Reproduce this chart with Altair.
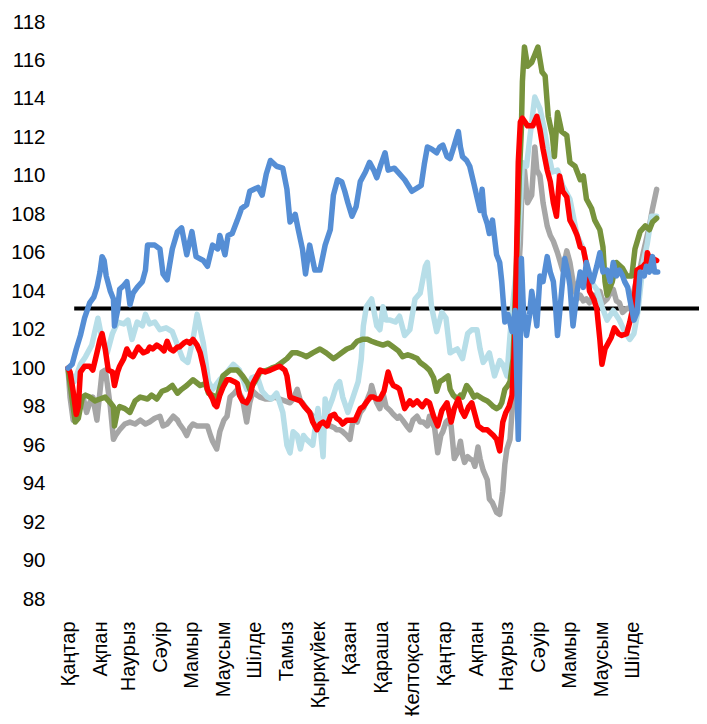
import json
import altair as alt
import pandas as pd

# ---- axis content ----
months = ["Қаңтар", "Ақпан", "Наурыз", "Сәуір", "Мамыр", "Маусым", "Шілде", "Тамыз",
          "Қыркүйек", "Қазан", "Қараша", "Желтоқсан", "Қаңтар", "Ақпан", "Наурыз",
          "Сәуір", "Мамыр", "Маусым", "Шілде"]
month_start_day = [0, 31, 59, 90, 120, 151, 181, 212, 243, 273, 304, 334,
                   365, 396, 425, 456, 486, 517, 547]
y_ticks = list(range(88, 119, 2))
x_end_day = 611
threshold = 103.1
threshold_start_day = 6

# ---- series (day since start, index value) ----
blue_day = [0, 4, 8, 12, 16, 21, 25, 28, 31, 33, 35, 37, 41, 44, 45, 48, 50, 54, 57, 60, 63, 67, 72, 75, 77,
            84, 89, 92, 96, 101, 106, 110, 115, 120, 124, 131, 135, 140, 145, 147, 152, 155, 159, 164, 168,
            173, 176, 184, 188, 192, 196, 202, 208, 212, 215, 220, 223, 227, 230, 234, 239, 244, 249, 254,
            257, 261, 265, 268, 271, 275, 279, 283, 288, 292, 296, 299, 303, 307, 310, 316, 321, 326, 333,
            339, 342, 345, 348, 352, 357, 360, 363, 367, 370, 373, 378, 380, 382, 386, 389, 393, 396, 399,
            401, 403, 406, 408, 411, 415, 418, 420, 423, 426, 430, 433, 436, 438, 439, 441, 444, 447, 449,
            452, 454, 457, 460, 464, 467, 470, 472, 474, 478, 481, 484, 486, 489, 493, 496, 499, 502, 505,
            508, 512, 515, 518, 522, 525, 528, 531, 534, 537, 539, 542, 544, 548, 551, 554, 558, 560, 563,
            566, 568, 571]
blue_val = [100.0, 100.2, 101.0, 101.7, 102.6, 103.4, 103.7, 104.2, 105.0, 105.8, 105.6, 104.8, 104.0, 103.6,
            102.2, 103.0, 104.1, 104.3, 104.5, 103.3, 103.9, 104.2, 104.5, 105.1, 106.4, 106.4, 106.2, 104.9,
            104.6, 106.2, 107.1, 107.3, 105.9, 107.1, 105.8, 105.6, 105.3, 106.4, 106.2, 106.9, 105.9, 106.9,
            107.0, 107.7, 108.3, 108.5, 109.2, 109.4, 109.0, 110.1, 110.8, 110.5, 110.4, 109.3, 107.6, 108.0,
            107.2, 106.2, 104.9, 106.4, 105.1, 105.1, 106.4, 107.2, 109.0, 109.8, 109.7, 109.2, 108.6, 107.9,
            108.4, 109.7, 110.2, 110.7, 110.3, 109.9, 110.6, 111.2, 110.3, 110.4, 110.1, 109.8, 109.2, 109.4,
            109.5, 110.6, 111.5, 111.4, 111.2, 111.5, 111.6, 111.0, 110.9, 111.4, 112.3, 111.5, 111.0, 110.8,
            110.5, 109.6, 108.9, 108.2, 109.3, 108.0, 107.5, 107.0, 107.7, 105.9, 105.5, 104.5, 102.4, 102.8,
            101.9, 103.0, 96.3, 101.5, 105.7, 103.0, 101.7, 102.8, 104.0, 103.0, 102.2, 104.8, 104.5, 105.8,
            105.0, 104.5, 103.3, 101.7, 104.0, 105.7, 105.0, 104.3, 102.2, 104.0, 105.0, 104.2, 105.5, 104.9,
            104.5, 105.3, 106.0, 105.0, 105.1, 104.5, 105.5, 104.8, 105.1, 104.8, 104.5, 104.2, 103.6, 102.5,
            102.9, 105.0, 104.8, 105.3, 105.0, 105.8, 105.0, 105.0]

lightblue_day = [0, 6, 12, 17, 23, 29, 33, 38, 43, 48, 54, 58, 62, 67, 72, 75, 79, 84, 89, 95, 101, 106, 111,
                 116, 121, 125, 131, 136, 140, 147, 154, 160, 166, 173, 178, 183, 188, 193, 197, 202, 208, 212,
                 215, 218, 222, 225, 228, 231, 237, 242, 245, 247, 249, 251, 256, 260, 263, 266, 271, 276, 281,
                 284, 286, 289, 294, 299, 302, 305, 308, 312, 317, 321, 326, 331, 336, 341, 346, 348, 352, 357,
                 362, 366, 370, 373, 377, 382, 387, 391, 396, 399, 402, 406, 408, 413, 418, 421, 425, 428, 431,
                 434, 438, 440, 444, 447, 452, 457, 461, 464, 469, 474, 479, 486, 493, 499, 505, 512, 517, 522,
                 528, 534, 539, 544, 548, 552, 557, 561, 565, 570]
lightblue_val = [100.0, 99.3, 100.2, 100.6, 101.2, 102.6, 101.5, 100.8, 101.8, 102.4, 102.3, 102.5, 101.5,
                 102.4, 102.2, 102.8, 102.3, 102.4, 102.0, 102.1, 101.9, 101.2, 100.5, 100.3, 101.5, 102.8,
                 101.3, 99.3, 98.9, 99.4, 99.8, 100.2, 99.9, 98.9, 99.5, 99.6, 98.8, 98.5, 98.4, 98.7, 97.7,
                 96.0, 95.6, 96.7, 96.5, 95.8, 96.5, 96.3, 96.0, 97.9, 96.5, 95.4, 98.4, 97.7, 98.4, 99.1,
                 99.3, 98.5, 97.7, 98.5, 99.3, 100.5, 102.2, 103.2, 103.6, 102.2, 102.0, 103.2, 102.5, 102.5,
                 102.4, 102.7, 101.7, 102.0, 103.6, 103.9, 105.3, 105.5, 103.2, 101.9, 102.9, 102.6, 100.8,
                 100.9, 101.0, 100.5, 101.8, 102.0, 102.0, 101.0, 100.3, 100.6, 100.8, 99.6, 100.4, 100.2,
                 99.6, 101.7, 103.5, 105.1, 108.5, 110.7, 110.5, 111.9, 114.1, 113.5, 112.5, 111.5, 110.2,
                 110.3, 109.5, 108.8, 106.9, 106.2, 104.6, 104.1, 103.2, 102.5, 103.0, 102.5, 101.9, 101.5,
                 101.8, 103.0, 105.5, 106.5, 107.9, 107.9]

green_day = [0, 3, 7, 10, 14, 17, 21, 26, 31, 36, 41, 44, 45, 48, 50, 55, 60, 65, 70, 77, 81, 86, 91, 96, 101,
             106, 110, 115, 121, 128, 133, 136, 140, 144, 147, 150, 157, 164, 169, 174, 176, 181, 186, 193,
             197, 202, 207, 212, 217, 222, 227, 231, 237, 244, 250, 257, 260, 265, 270, 275, 280, 285, 290,
             294, 299, 305, 310, 315, 320, 324, 329, 334, 338, 341, 346, 350, 354, 357, 360, 363, 368, 370,
             373, 377, 380, 382, 386, 389, 393, 396, 402, 406, 408, 412, 415, 418, 420, 423, 426, 428, 431,
             434, 437, 439, 440, 442, 445, 449, 452, 455, 459, 462, 465, 469, 471, 474, 478, 483, 486, 491,
             496, 499, 502, 507, 510, 515, 518, 520, 522, 527, 531, 537, 541, 546, 549, 554, 559, 563, 566,
             570]
green_val = [100.0, 98.8, 97.2, 97.4, 98.5, 98.6, 98.5, 98.3, 98.4, 98.5, 98.2, 98.0, 97.0, 97.8, 98.0, 97.9,
             97.7, 98.3, 98.5, 98.4, 98.6, 98.4, 98.8, 98.9, 99.1, 98.7, 98.9, 99.1, 99.4, 99.1, 99.2, 98.7,
             98.6, 98.4, 99.0, 99.6, 99.9, 99.9, 99.6, 99.2, 98.9, 99.3, 99.8, 99.9, 100.0, 100.1, 100.3,
             100.5, 100.8, 100.8, 100.7, 100.6, 100.8, 101.0, 100.8, 100.5, 100.6, 100.8, 101.0, 101.1, 101.4,
             101.5, 101.5, 101.4, 101.3, 101.2, 101.3, 101.1, 100.9, 100.6, 100.7, 100.6, 100.5, 100.3, 100.1,
             99.9, 99.5, 98.8, 99.3, 99.4, 99.6, 98.9, 98.6, 98.4, 98.6, 98.5, 99.1, 98.9, 98.5, 98.6, 98.4,
             98.3, 98.2, 98.0, 97.9, 98.0, 98.2, 98.9, 99.1, 99.3, 100.5, 105.0, 110.0, 112.4, 114.9, 116.7,
             115.7, 115.9, 116.3, 116.7, 115.4, 115.2, 113.1, 112.1, 111.0, 113.3, 112.3, 112.1, 110.7, 110.5,
             109.8, 110.0, 108.8, 108.3, 107.7, 107.2, 106.3, 104.5, 103.8, 104.5, 105.5, 105.2, 104.8, 104.8,
             106.2, 107.1, 107.4, 107.2, 107.6, 107.8]

red_day = [0, 2, 5, 8, 10, 12, 16, 21, 24, 28, 31, 33, 36, 39, 43, 45, 48, 50, 54, 57, 60, 63, 68, 73, 77, 79,
           82, 86, 89, 93, 96, 99, 102, 106, 108, 112, 115, 118, 121, 125, 128, 131, 135, 138, 140, 142, 144,
           147, 150, 154, 157, 161, 164, 166, 169, 173, 176, 179, 183, 186, 191, 196, 200, 205, 210, 212, 215,
           220, 225, 229, 234, 237, 241, 244, 247, 251, 254, 258, 260, 263, 266, 270, 273, 278, 283, 286, 290,
           293, 296, 299, 302, 306, 310, 313, 315, 319, 321, 326, 331, 334, 338, 343, 347, 350, 354, 358, 362,
           367, 371, 374, 378, 381, 384, 388, 391, 394, 397, 402, 406, 408, 412, 415, 418, 421, 424, 427, 430,
           433, 436, 438, 440, 445, 450, 454, 457, 460, 464, 467, 470, 473, 476, 479, 483, 486, 489, 493, 496,
           499, 502, 505, 509, 512, 515, 517, 520, 523, 526, 529, 533, 536, 541, 544, 546, 549, 551, 554, 557,
           560, 561, 563, 566, 570]
red_val = [100.0, 99.8, 98.8, 97.6, 98.0, 99.8, 100.1, 100.1, 99.9, 100.8, 101.5, 101.8, 101.0, 99.9, 99.8,
           99.1, 99.8, 100.1, 100.5, 101.0, 100.7, 100.6, 101.1, 100.8, 100.9, 101.1, 101.0, 101.2, 101.1,
           100.9, 101.4, 101.0, 100.9, 101.1, 101.1, 101.3, 101.4, 101.3, 101.5, 101.2, 100.8, 100.1, 98.9,
           98.6, 98.4, 98.1, 98.0, 98.6, 99.0, 99.4, 99.4, 99.3, 99.2, 98.6, 98.3, 98.2, 98.5, 99.2, 99.6,
           99.9, 99.8, 99.9, 100.0, 100.1, 99.9, 99.6, 98.5, 98.4, 98.3, 98.0, 97.7, 97.2, 96.8, 97.1, 97.2,
           97.0, 97.5, 97.6, 97.4, 97.3, 97.1, 97.3, 97.3, 97.3, 97.9, 98.0, 98.3, 98.5, 98.5, 98.4, 98.4,
           98.8, 99.8, 99.3, 99.1, 99.0, 98.9, 97.9, 98.3, 98.1, 98.3, 98.0, 98.3, 98.2, 97.5, 97.0, 97.8,
           98.2, 97.2, 97.9, 98.4, 97.8, 97.5, 98.0, 98.2, 97.6, 97.0, 96.8, 96.8, 96.7, 96.5, 96.3, 95.7,
           97.2, 97.7, 98.0, 98.6, 102.0, 110.7, 112.8, 113.0, 112.6, 112.6, 113.1, 112.4, 111.4, 110.3,
           109.7, 108.6, 107.9, 110.0, 109.2, 108.9, 107.7, 107.4, 106.9, 106.3, 106.2, 105.4, 104.0, 103.6,
           103.1, 101.5, 100.2, 101.0, 101.3, 101.6, 102.1, 101.8, 101.7, 101.8, 102.4, 102.9, 104.0, 105.1,
           105.2, 105.3, 105.5, 106.0, 105.7, 105.7, 105.6]

gray_day = [0, 2, 5, 9, 12, 15, 18, 21, 24, 28, 31, 33, 36, 38, 41, 44, 46, 50, 55, 60, 65, 70, 75, 79, 84,
            89, 92, 96, 102, 106, 108, 112, 115, 118, 121, 125, 128, 132, 135, 138, 140, 144, 147, 151, 154,
            157, 161, 164, 166, 169, 173, 176, 179, 183, 186, 191, 196, 200, 205, 210, 215, 218, 222, 225, 227,
            231, 234, 237, 242, 247, 251, 254, 258, 260, 263, 266, 270, 273, 276, 280, 283, 286, 290, 293, 294,
            297, 299, 302, 305, 308, 312, 315, 319, 321, 324, 328, 331, 334, 338, 341, 344, 348, 350, 353, 355,
            358, 361, 363, 366, 368, 371, 374, 378, 380, 382, 384, 387, 389, 392, 394, 397, 399, 402, 406, 408,
            411, 415, 418, 421, 423, 425, 428, 431, 434, 438, 440, 442, 445, 449, 452, 454, 457, 460, 464, 467,
            470, 474, 479, 483, 486, 489, 493, 496, 499, 502, 505, 509, 512, 515, 518, 522, 525, 528, 531, 534,
            537, 541, 544, 547, 551, 554, 557, 560, 563, 566, 570]
gray_val = [100.0, 98.5, 97.3, 97.9, 98.0, 98.4, 97.7, 98.2, 98.5, 97.3, 98.8, 99.8, 99.9, 99.2, 98.0, 96.3,
            96.5, 96.8, 97.1, 97.2, 97.1, 97.3, 97.1, 97.2, 97.4, 97.5, 97.0, 97.1, 97.5, 97.3, 97.1, 96.8,
            96.5, 96.9, 97.1, 97.0, 97.0, 97.0, 97.0, 96.5, 96.2, 95.8, 96.7, 97.3, 97.5, 98.5, 98.7, 98.9,
            98.7, 98.4, 97.2, 98.2, 98.8, 98.6, 98.5, 98.4, 98.4, 98.5, 98.4, 98.3, 98.2, 98.4, 98.9, 98.3,
            98.2, 97.9, 97.7, 97.5, 97.4, 97.3, 97.1, 97.0, 96.9, 96.8, 96.8, 96.7, 96.5, 96.3, 97.3, 97.2,
            97.7, 97.9, 98.4, 98.8, 99.1, 98.5, 98.2, 97.9, 98.7, 98.0, 97.8, 97.6, 97.4, 97.5, 97.3, 97.0,
            96.8, 97.3, 97.5, 97.2, 97.2, 97.0, 97.5, 97.1, 96.9, 95.6, 96.5, 96.7, 97.2, 97.3, 97.0, 95.3,
            95.7, 96.2, 95.5, 95.1, 95.4, 95.3, 95.2, 94.9, 95.9, 95.3, 94.7, 94.2, 93.2, 93.0, 92.5, 92.4,
            93.6, 95.0, 95.8, 96.3, 98.5, 103.0, 106.5, 110.2, 110.3, 108.6, 109.0, 111.5, 110.3, 110.0,
            108.6, 107.4, 106.9, 106.6, 106.0, 105.1, 106.1, 105.5, 104.5, 103.6, 103.8, 103.5, 103.6, 103.4,
            103.8, 103.6, 104.0, 103.4, 103.6, 103.9, 104.1, 103.5, 103.4, 102.9, 103.1, 103.1, 103.8, 104.7,
            105.2, 106.0, 106.7, 107.4, 108.3, 109.3]

# drawing order: first is bottom
series = [
    ("gray", gray_day, gray_val, "#A6A6A6"),
    ("lightblue", lightblue_day, lightblue_val, "#B7DEE8"),
    ("green", green_day, green_val, "#77933C"),
    ("red", red_day, red_val, "#FF0000"),
    ("blue", blue_day, blue_val, "#558ED5"),
]

FONT = "Liberation Sans"

label_expr = "{}[indexof({}, datum.value)]".format(
    json.dumps(months, ensure_ascii=False), json.dumps(month_start_day))

x_scale = alt.Scale(domain=[0, x_end_day], nice=False, zero=False)
y_scale = alt.Scale(domain=[88, 118], nice=False, zero=False)

x_axis = alt.Axis(values=month_start_day, labelExpr=label_expr, labelAngle=270,
                  labelAlign="right", labelBaseline="middle", labelPadding=22,
                  labelFontSize=20, labelFont=FONT, labelColor="black",
                  ticks=False, tickSize=0, domain=False, grid=False, title=None,
                  labelOverlap=False)
y_axis = alt.Axis(values=y_ticks, labelPadding=23, labelFontSize=20.5, labelFont=FONT,
                  labelColor="black", ticks=False, tickSize=0, domain=False, grid=False,
                  title=None, labelOverlap=False)

thr_df = pd.DataFrame({"x": [threshold_start_day], "x2": [x_end_day], "y": [threshold]})
rule = alt.Chart(thr_df).mark_rule(color="black", strokeWidth=4).encode(
    x=alt.X("x:Q", scale=x_scale, axis=x_axis),
    x2="x2:Q",
    y=alt.Y("y:Q", scale=y_scale, axis=y_axis),
)

layers = [rule]
for name, days, vals, color in series:
    df = pd.DataFrame({"day": days, "value": vals})
    layers.append(
        alt.Chart(df).mark_line(color=color, strokeWidth=5.5, strokeJoin="round", strokeCap="round").encode(
            x=alt.X("day:Q", scale=x_scale, axis=x_axis),
            y=alt.Y("value:Q", scale=y_scale, axis=y_axis),
        )
    )

chart = alt.layer(*layers).properties(
    width=631, height=577,
    padding={"left": 60, "top": 14, "right": 0, "bottom": 117},
    autosize=alt.AutoSizeParams(type="none"),
).configure_view(stroke=None)

chart.save("out.html", embed_options={"renderer": "svg", "actions": False})
